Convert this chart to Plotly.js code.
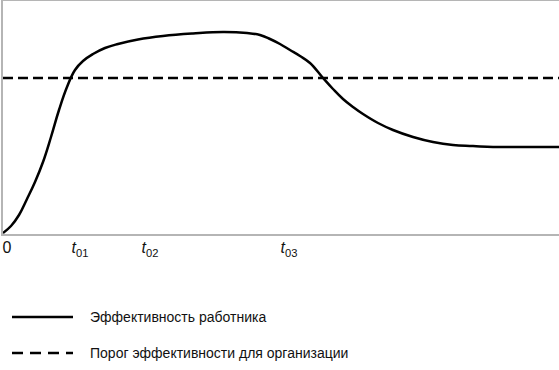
<!DOCTYPE html>
<html>
<head>
<meta charset="utf-8">
<script src="https://cdn.plot.ly/plotly-3.0.1.min.js"></script>
<style>html,body{margin:0;padding:0;background:#fff;}#chart{width:559px;height:370px;}</style>
</head>
<body>
<div id="chart"></div>
<script>
// time (arbitrary units) and worker efficiency (arbitrary units)
var timeValues = [0, 8, 16, 24, 32, 40, 48, 56, 64, 72, 80, 90, 102, 115, 135, 160, 190, 220, 244, 257, 267, 277, 287, 297, 307, 320, 330, 340, 350, 360, 375, 390, 410, 430, 450, 470, 490, 520, 556];
var efficiency = [1, 8, 19, 35, 52, 72, 97, 124, 147, 164, 173, 180, 186, 190, 194.5, 198, 200.5, 202, 201, 199, 195, 190, 184, 178, 171, 156, 145, 135, 127, 120, 111, 104, 97, 92, 89, 88, 87, 87, 87];
var thresholdTime = [0, 556];
var thresholdValue = [156, 156];
var tickPositions = [4, 77, 147, 286];
var tickLabels = ['0', '<i>t</i><sub>01</sub>', '<i>t</i><sub>02</sub>', '<i>t</i><sub>03</sub>'];
var seriesNames = ['Эффективность работника', 'Порог эффективности для организации'];

var FONT = 'Liberation Sans, Arial, sans-serif';

var traces = [
  {x: timeValues, y: efficiency, mode: 'lines', name: seriesNames[0],
   line: {color: '#000', width: 2.5, shape: 'spline', smoothing: 1.2}, showlegend: false, hoverinfo: 'skip'},
  {x: thresholdTime, y: thresholdValue, mode: 'lines', name: seriesNames[1],
   line: {color: '#000', width: 2.5, dash: '10px,5px'}, showlegend: false, hoverinfo: 'skip'}
];

var H = 233, W = 556;
function py(pix) { return (234 - pix) / H; }
function px(pix) { return (pix - 3) / W; }

var shapes = [
  {type: 'line', xref: 'paper', yref: 'paper', x0: px(12), x1: px(73), y0: py(317), y1: py(317), line: {color: '#000', width: 2.5}},
  {type: 'line', xref: 'paper', yref: 'paper', x0: px(12), x1: px(73), y0: py(353), y1: py(353), line: {color: '#000', width: 2.5, dash: '11px,7px'}}
];
var annotations = [
  {xref: 'paper', yref: 'paper', x: px(88), y: py(317), xanchor: 'left', yanchor: 'middle', showarrow: false, text: seriesNames[0], font: {family: FONT, size: 14, color: '#111'}},
  {xref: 'paper', yref: 'paper', x: px(88), y: py(353), xanchor: 'left', yanchor: 'middle', showarrow: false, text: seriesNames[1], font: {family: FONT, size: 14, color: '#111'}}
];

var layout = {
  width: 559, height: 370,
  margin: {l: 3, r: 0, t: 1, b: 136},
  paper_bgcolor: '#fff', plot_bgcolor: '#fff',
  showlegend: false,
  xaxis: {range: [0, 556], showgrid: false, zeroline: false, showline: true, mirror: true,
          linecolor: '#b5b5b5', linewidth: 2, tickvals: tickPositions, ticktext: tickLabels,
          ticks: '', ticklabelstandoff: -2, tickfont: {family: FONT, size: 16, color: '#111'}, fixedrange: true},
  yaxis: {range: [0, 233], showgrid: false, zeroline: false, showline: true, mirror: false,
          linecolor: '#b5b5b5', linewidth: 2, showticklabels: false, ticks: '', fixedrange: true},
  shapes: shapes,
  annotations: annotations
};

Plotly.newPlot('chart', traces, layout, {staticPlot: true, displayModeBar: false});
</script>
</body>
</html>
